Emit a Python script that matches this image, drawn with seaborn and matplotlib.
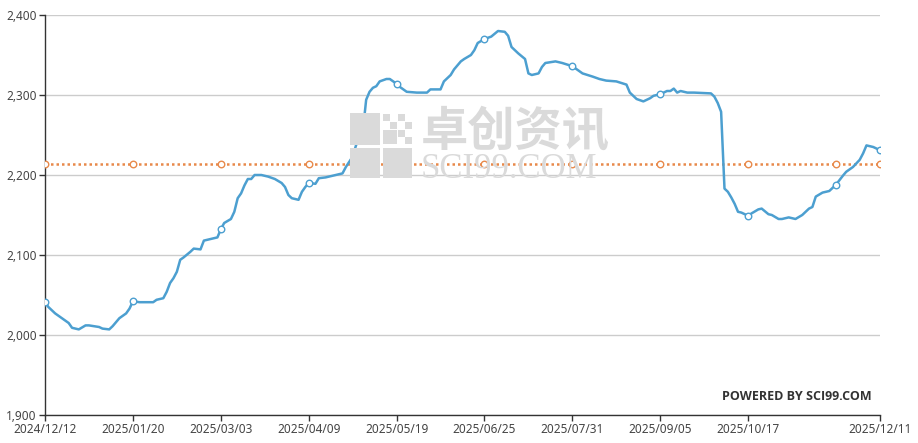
import pandas as pd
import numpy as np
import matplotlib
matplotlib.use("Agg")
import matplotlib.pyplot as plt
import matplotlib.patches as mpatches
import seaborn as sns

# trading-day index of each reading (0 = 2024/12/12, 247 = 2025/12/11)
day_idx = [0, 1, 3, 5, 7, 8, 10, 12, 13, 16, 17, 19, 20, 22, 24, 25, 26, 28, 32, 33,
           35, 36, 37, 38, 39, 40, 41, 43, 44, 46, 47, 49, 51, 52, 53, 55, 56, 57, 58, 59,
           60, 61, 62, 64, 66, 68, 70, 71, 72, 73, 75, 76, 77, 78, 80, 81, 83, 84, 86, 88,
           89, 91, 92, 93, 94, 95, 96, 97, 98, 99, 101, 102, 103, 104, 105, 107, 110, 113, 114, 117,
           118, 120, 121, 122, 123, 124, 126, 127, 128, 130, 132, 134, 136, 137, 138, 140, 142, 143, 144, 146,
           147, 148, 151, 153, 156, 157, 159, 162, 164, 166, 169, 172, 173, 175, 177, 179, 180, 182, 184, 185,
           186, 187, 188, 190, 192, 197, 198, 199, 200, 201, 202, 203, 204, 205, 206, 208, 209, 211, 212, 214,
           215, 217, 218, 220, 222, 224, 226, 227, 228, 230, 232, 234, 236, 237, 239, 241, 242, 243, 245, 247]
price = [2041, 2035, 2027, 2021, 2015, 2009, 2007, 2012, 2012, 2010, 2008, 2007, 2011, 2021, 2027, 2033, 2042, 2041, 2041, 2044,
         2046, 2054, 2065, 2071, 2079, 2094, 2097, 2104, 2108, 2107, 2118, 2120, 2122, 2132, 2140, 2145, 2154, 2171, 2177, 2187,
         2195, 2195, 2200, 2200, 2198, 2195, 2190, 2185, 2175, 2171, 2169, 2179, 2185, 2190, 2189, 2196, 2197, 2198, 2200, 2202,
         2210, 2223, 2237, 2247, 2254, 2294, 2304, 2309, 2311, 2317, 2320, 2320, 2317, 2314, 2310, 2304, 2303, 2303, 2307, 2307,
         2317, 2325, 2332, 2337, 2342, 2345, 2350, 2356, 2365, 2370, 2373, 2380, 2379, 2374, 2360, 2352, 2345, 2327, 2325, 2327,
         2335, 2340, 2342, 2340, 2336, 2333, 2327, 2323, 2320, 2318, 2317, 2313, 2303, 2295, 2292, 2296, 2299, 2301, 2305, 2305,
         2308, 2303, 2305, 2303, 2303, 2302, 2298, 2290, 2279, 2183, 2179, 2172, 2164, 2154, 2153, 2149, 2152, 2157, 2158, 2151,
         2150, 2145, 2145, 2147, 2145, 2150, 2158, 2160, 2173, 2178, 2180, 2188, 2199, 2204, 2210, 2219, 2227, 2237, 2235, 2231]
average_price = 2214

# readings that carry a hollow marker
marker_idx = [0, 26, 52, 78, 104, 130, 156, 182, 208, 234, 247]
tick_idx = [0, 26, 52, 78, 104, 130, 156, 182, 208, 247]
tick_labels = ['2024/12/12', '2025/01/20', '2025/03/03', '2025/04/09', '2025/05/19', '2025/06/25',
               '2025/07/31', '2025/09/05', '2025/10/17', '2025/12/11']
y_ticks = [1900, 2000, 2100, 2200, 2300, 2400]

BLUE = '#4c9fd0'
ORANGE = '#e8894a'

sns.set_theme(style="white")
plt.rcParams['font.family'] = ['Noto Sans', 'DejaVu Sans']

df = pd.DataFrame({'idx': day_idx, 'price': price})
df['avg'] = average_price
marks = df[df['idx'].isin(marker_idx)]

W, H = 918, 443
fig = plt.figure(figsize=(W / 100, H / 100), dpi=100)
ax = fig.add_axes([45 / W, 28 / H, 835 / W, 400 / H])

# watermark
wm = '#dadada'
def px_rect(x0, y0, w, h):
    return mpatches.Rectangle((x0 / W, 1 - (y0 + h) / H), w / W, h / H,
                              transform=fig.transFigure, facecolor=wm,
                              edgecolor='none', zorder=0)
for r in [(350, 113, 30, 32), (350, 148, 30, 30), (383, 148, 29, 30),
          (383, 114, 7, 7), (398, 114, 7, 7), (390, 122, 7, 7), (405, 122, 7, 7),
          (383, 130, 14, 14), (398, 130, 7, 7), (405, 137, 7, 7)]:
    fig.patches.append(px_rect(*r))
fig.text(421 / W, 1 - 132 / H, '卓创资讯', fontsize=34, fontweight='bold',
         color=wm, family=['Noto Sans CJK SC'], va='center', ha='left', zorder=0)
fig.text(421 / W, 1 - 170 / H, 'SCI99.COM', fontsize=25, color=wm,
         family=['Liberation Serif'], va='center', ha='left', zorder=0)

ax.set_facecolor('none')
sns.lineplot(data=df, x='idx', y='price', ax=ax, color=BLUE, linewidth=1.8, zorder=3)
sns.lineplot(data=df, x='idx', y='avg', ax=ax, color=ORANGE, linewidth=1.8,
             linestyle=(0, (1, 1.2)), zorder=2)
sns.scatterplot(data=marks, x='idx', y='price', ax=ax, facecolor='white',
                edgecolor=BLUE, linewidth=1, s=22, zorder=4)
sns.scatterplot(data=marks, x='idx', y='avg', ax=ax, facecolor='white',
                edgecolor=ORANGE, linewidth=1, s=22, zorder=4)

ax.set_xlim(0, 247)
ax.set_ylim(1900, 2400)
ax.set_xticks(tick_idx)
ax.set_xticklabels(tick_labels)
ax.set_yticks(y_ticks)
ax.set_yticklabels([f'{v:,}' for v in y_ticks])
ax.set_xlabel('')
ax.set_ylabel('')
ax.grid(axis='y', color='#cccccc', linewidth=1)
ax.grid(axis='x', visible=False)
ax.set_axisbelow(True)
for s in ['top', 'right']:
    ax.spines[s].set_visible(False)
for s in ['left', 'bottom']:
    ax.spines[s].set_color('#333333')
    ax.spines[s].set_linewidth(1)
ax.tick_params(axis='both', which='major', length=4, width=1, color='#333333',
               labelsize=8.5, labelcolor='#444444', pad=2, bottom=True, left=True)

fig.text(872 / W, 1 - 396 / H, 'POWERED BY SCI99.COM', fontsize=9, fontweight='bold',
         color='#333333', family=['Open Sans'], ha='right', va='center')

fig.savefig('out.png', dpi=100)
